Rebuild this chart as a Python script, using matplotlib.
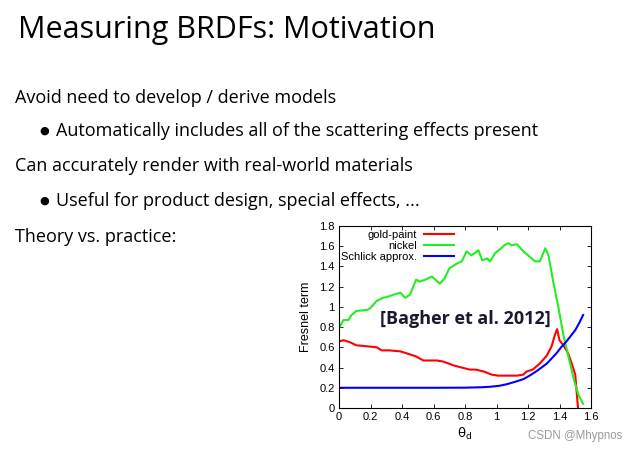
import matplotlib
matplotlib.use('Agg')
import matplotlib.pyplot as plt

# Slide text
title = 'Measuring BRDFs: Motivation'
bullets = [
    (0, 'Avoid need to develop / derive models'),
    (1, 'Automatically includes all of the scattering effects present'),
    (0, 'Can accurately render with real-world materials'),
    (1, 'Useful for product design, special effects, ...'),
    (0, 'Theory vs. practice:'),
]

# Chart data
nickel_x = [0.0, 0.028, 0.06, 0.08, 0.11, 0.18, 0.2, 0.24, 0.28, 0.31, 0.345, 0.39, 0.42, 0.45,
            0.49, 0.51, 0.55, 0.59, 0.64, 0.67, 0.70, 0.75, 0.78, 0.81, 0.84, 0.86, 0.885, 0.91,
            0.94, 0.96, 0.99, 1.03, 1.05, 1.075, 1.095, 1.13, 1.17, 1.20, 1.245, 1.275, 1.31,
            1.33, 1.36, 1.39, 1.425, 1.455, 1.49, 1.52, 1.55]
nickel_y = [0.79, 0.87, 0.87, 0.92, 0.96, 0.97, 0.99, 1.06, 1.09, 1.10, 1.12, 1.14, 1.09, 1.12,
            1.27, 1.25, 1.27, 1.30, 1.23, 1.28, 1.38, 1.43, 1.45, 1.55, 1.51, 1.53, 1.56, 1.46,
            1.48, 1.45, 1.53, 1.58, 1.61, 1.63, 1.61, 1.62, 1.55, 1.51, 1.45, 1.45, 1.58,
            1.51, 1.25, 1.02, 0.72, 0.52, 0.29, 0.13, 0.04]

gold_x = [0.0, 0.03, 0.07, 0.11, 0.18, 0.24, 0.27, 0.32, 0.39, 0.45, 0.49, 0.535, 0.58, 0.62,
          0.66, 0.73, 0.78, 0.83, 0.87, 0.92, 0.97, 1.01, 1.065, 1.13, 1.17, 1.19, 1.23, 1.275,
          1.32, 1.35, 1.37, 1.385, 1.40, 1.425, 1.455, 1.48, 1.50, 1.52]
gold_y = [0.66, 0.67, 0.65, 0.62, 0.61, 0.60, 0.57, 0.57, 0.56, 0.53, 0.51, 0.47, 0.47, 0.47,
          0.46, 0.42, 0.40, 0.38, 0.38, 0.36, 0.33, 0.32, 0.32, 0.32, 0.33, 0.36, 0.38, 0.44,
          0.52, 0.61, 0.72, 0.78, 0.67, 0.62, 0.54, 0.43, 0.33, -0.05]

schlick_x = [0.0, 0.2, 0.4, 0.6, 0.8, 0.9, 0.96, 1.02, 1.065, 1.12, 1.17, 1.21, 1.255, 1.29,
             1.32, 1.35, 1.38, 1.41, 1.445, 1.47, 1.50, 1.525, 1.55]
schlick_y = [0.20, 0.20, 0.20, 0.20, 0.201, 0.205, 0.21, 0.22, 0.235, 0.26, 0.285, 0.32, 0.365, 0.405,
             0.44, 0.49, 0.54, 0.60, 0.66, 0.71, 0.77, 0.84, 0.92]

x_ticks = [0, 0.2, 0.4, 0.6, 0.8, 1, 1.2, 1.4, 1.6]
y_ticks = [0, 0.2, 0.4, 0.6, 0.8, 1, 1.2, 1.4, 1.6, 1.8]

fig = plt.figure(figsize=(6.38, 4.51), dpi=100)
fig.patch.set_facecolor('white')

slide_font = ['Open Sans', 'DejaVu Sans']
fig.text(18 / 638, 1 - 30 / 451, title, fontsize=22, family=slide_font,
         ha='left', va='center', color='black')

line_y = [98, 131, 166, 201, 237]
for (level, txt), y in zip(bullets, line_y):
    yf = 1 - y / 451
    if level == 0:
        fig.text(15 / 638, yf, txt, fontsize=13, family=slide_font, ha='left', va='center')
    else:
        fig.text(39 / 638, yf, '\u25cf', fontsize=8, family='DejaVu Sans', ha='left', va='center')
        fig.text(56 / 638, yf, txt, fontsize=13, family=slide_font, ha='left', va='center')

# Embedded chart
ax = fig.add_axes([339 / 638, 1 - 408 / 451, (591 - 339) / 638, (408 - 226) / 451])
ax.plot(gold_x, gold_y, color='#ff0000', lw=1.5, label='gold-paint')
ax.plot(nickel_x, nickel_y, color='#22ee22', lw=1.5, label='nickel')
ax.plot(schlick_x, schlick_y, color='#0000ff', lw=1.5, label='Schlick approx.')
ax.set_xlim(0, 1.6)
ax.set_ylim(0, 1.8)
ax.set_xticks(x_ticks)
ax.set_yticks(y_ticks)
ax.set_xticklabels(['0', '0.2', '0.4', '0.6', '0.8', '1', '1.2', '1.4', '1.6'])
ax.set_yticklabels(['0', '0.2', '0.4', '0.6', '0.8', '1', '1.2', '1.4', '1.6', '1.8'])
ax.tick_params(direction='in', top=True, right=True, length=3, width=0.6,
               labelsize=8, pad=3)
for lab in ax.get_xticklabels() + ax.get_yticklabels():
    lab.set_family('Liberation Sans')
for s in ax.spines.values():
    s.set_linewidth(0.8)
ax.set_ylabel('Fresnel term', fontsize=9, family='Liberation Sans', labelpad=5)
ax.set_xlabel(r'$\mathregular{\theta_d}$', fontsize=9.5, labelpad=3)

leg = ax.legend(loc='upper right', bbox_to_anchor=(0.47, 1.0), frameon=False,
                markerfirst=False, fontsize=8, handlelength=2.7, handletextpad=0.6,
                labelspacing=0.08, borderaxespad=0.0, borderpad=0.35)
for t in leg.get_texts():
    t.set_family('Liberation Sans')

ax.text(0.5, 0.489, '[Bagher et al. 2012]', transform=ax.transAxes, fontsize=13,
        fontweight='bold', family=slide_font, color='#1a1a2e', ha='center', va='center')

fig.text(622 / 638, 1 - 436 / 451, 'CSDN @Mhypnos', fontsize=8.3, family='Liberation Sans',
         color='#9a9a9a', ha='right', va='center')

fig.savefig('out.png', dpi=100, facecolor='white')
